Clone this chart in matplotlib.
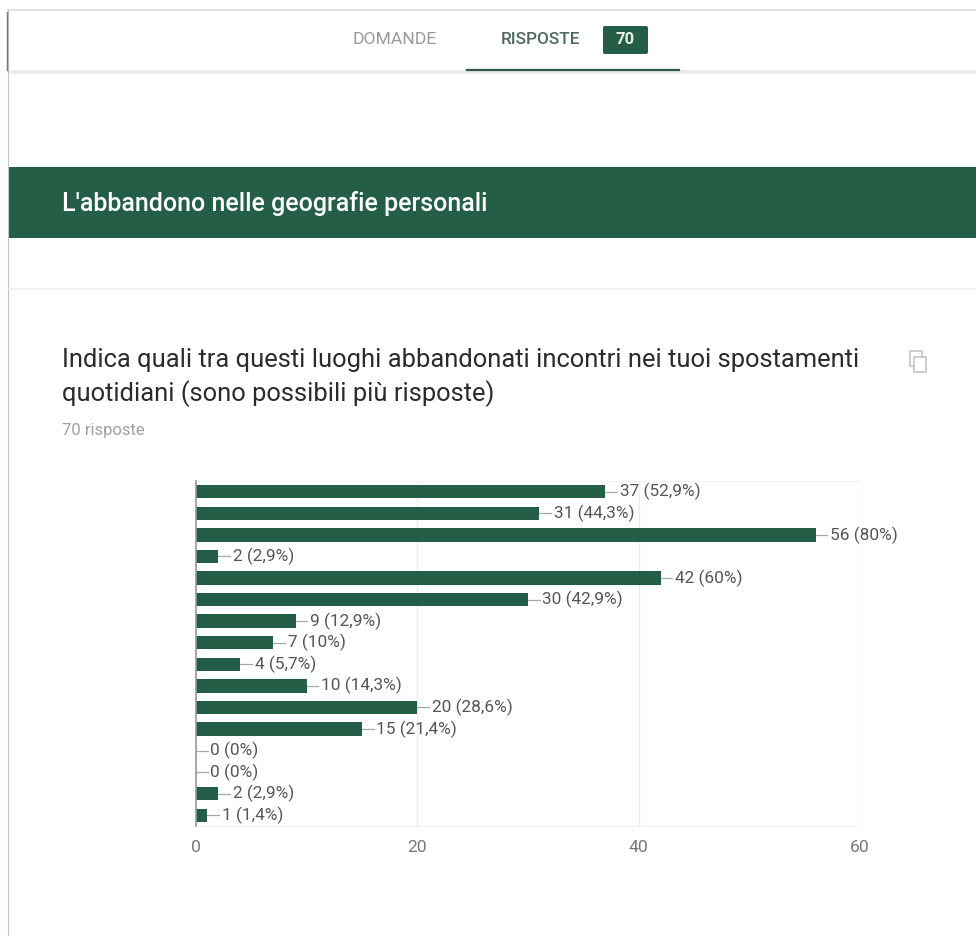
import matplotlib
matplotlib.use("Agg")
import matplotlib.pyplot as plt
from matplotlib.patches import FancyBboxPatch, Rectangle

plt.rcParams['font.family'] = ['Roboto', 'DejaVu Sans']

counts = [37, 31, 56, 2, 42, 30, 9, 7, 4, 10, 20, 15, 0, 0, 2, 1]
percents = ["52,9", "44,3", "80", "2,9", "60", "42,9", "12,9", "10",
            "5,7", "14,3", "28,6", "21,4", "0", "0", "2,9", "1,4"]
xticks = [0, 20, 40, 60]

GREEN = "#255e46"
W, H = 976, 936

fig = plt.figure(figsize=(W / 100, H / 100), dpi=100, facecolor="white")

# page furniture, in pixel coordinates
page = fig.add_axes([0, 0, 1, 1])
page.set_xlim(0, W)
page.set_ylim(H, 0)
page.axis("off")

page.plot([8, W], [10, 10], color="#dcdcdc", lw=1.2)
page.plot([8, 8], [10, H], color="#c4c4c4", lw=0.8)
page.plot([6.5, 6.5], [12, 70], color="#777777", lw=1)
page.add_patch(Rectangle((8, 70), W - 8, 4, color="#ececec", lw=0))
page.plot([467, 679], [69.5, 69.5], color="#2d5a48", lw=1.6)

page.text(394.5, 39, "DOMANDE", color="#9a9a9a", fontsize=12.6, ha="center", va="center")
page.text(540, 39, "RISPOSTE", color="#4f6a5f", fontsize=12.4, ha="center", va="center",
          fontweight="medium")
page.add_patch(FancyBboxPatch((603, 26), 45, 28, boxstyle="round,pad=0,rounding_size=2",
                              fc=GREEN, ec="none"))
page.text(625, 40, "70", color="#e8efe9", fontsize=12, ha="center", va="center",
          fontweight="bold")

page.add_patch(Rectangle((9, 167), W - 9, 71, color=GREEN, lw=0))
page.text(62, 204, "L'abbandono nelle geografie personali", color="white",
          fontsize=18, va="center", fontweight="medium")
page.plot([9, W], [288.5, 288.5], color="#efefef", lw=1.2)

page.text(62, 360, "Indica quali tra questi luoghi abbandonati incontri nei tuoi spostamenti",
          color="#2b2b2b", fontsize=18.4, va="center")
page.text(62, 394, "quotidiani (sono possibili più risposte)",
          color="#2b2b2b", fontsize=18.4, va="center")
page.text(62, 430, "70 risposte", color="#a0a0a0", fontsize=12, va="center")

# copy icon
page.add_patch(Rectangle((910, 351), 12, 15, fc="white", ec="#c4c4c4", lw=1.2))
page.add_patch(Rectangle((914, 357), 12, 15, fc="white", ec="#c4c4c4", lw=1.2))

# bar chart
left, right, top, bottom = 196, 860, 481, 826
ax = fig.add_axes([left / W, 1 - bottom / H, (right - left) / W, (bottom - top) / H])
ax.patch.set_alpha(0)
y = list(range(len(counts)))
ax.barh(y, counts, height=0.62, color=GREEN, zorder=3)
ax.set_xlim(0, 60)
ax.set_ylim(len(counts) - 0.5, -0.5)
ax.set_yticks([])
ax.set_xticks(xticks)
ax.tick_params(axis="x", length=0, pad=10, labelsize=12.6, labelcolor="#777777")
ax.grid(axis="x", color="#ececec", lw=1, zorder=0)
for side in ["top", "bottom"]:
    ax.spines[side].set_color("#f2f2f2")
ax.spines["right"].set_visible(False)
ax.spines["left"].set_color("#999999")
ax.spines["left"].set_linewidth(1.2)
ax.spines["left"].set_zorder(4)

# value labels with short leader lines
for i, (c, p) in enumerate(zip(counts, percents)):
    ax.plot([c, c + 1.05], [i, i], color="#a8a8a8", lw=0.9, zorder=2)
    ax.annotate(f"{c} ({p}%)", xy=(c, i), xytext=(14.5, 0), textcoords="offset pixels",
                ha="left", va="center", fontsize=12.4, color="#555555", zorder=5)

fig.savefig("out.png", dpi=100)
